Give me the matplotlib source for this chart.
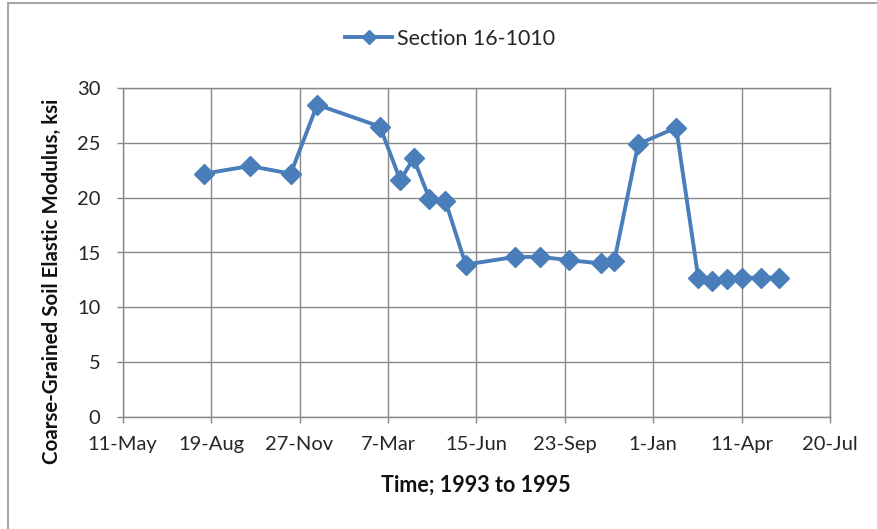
import matplotlib
matplotlib.use("Agg")
import matplotlib.pyplot as plt
from matplotlib.patches import Rectangle
import datetime as dt

plt.rcParams['font.family'] = ['Lato', 'DejaVu Sans']

series_name = "Section 16-1010"
dates = ["1993-08-11", "1993-10-02", "1993-11-17", "1993-12-17", "1994-02-26",
         "1994-03-21", "1994-04-05", "1994-04-23", "1994-05-11", "1994-06-03",
         "1994-07-29", "1994-08-26", "1994-09-28", "1994-11-03", "1994-11-18",
         "1994-12-15", "1995-01-27", "1995-02-21", "1995-03-09", "1995-03-26",
         "1995-04-12", "1995-05-03", "1995-05-23"]
values = [22.2, 22.9, 22.2, 28.5, 26.5,
          21.6, 23.6, 19.9, 19.7, 13.9,
          14.6, 14.6, 14.3, 14.0, 14.2,
          24.9, 26.4, 12.7, 12.4, 12.6,
          12.7, 12.7, 12.7]
tick_labels = ["11-May", "19-Aug", "27-Nov", "7-Mar", "15-Jun", "23-Sep",
               "1-Jan", "11-Apr", "20-Jul"]
x_start = "1993-05-11"
tick_step_days = 100
y_ticks = [0, 5, 10, 15, 20, 25, 30]

W, H = 877, 529
fig = plt.figure(figsize=(W / 100, H / 100), dpi=100)
left, right, top, bottom = 122.7, 830, 88.3, 416.7
ax = fig.add_axes([left / W, 1 - bottom / H, (right - left) / W, (bottom - top) / H])

x = [dt.datetime.strptime(d, "%Y-%m-%d") for d in dates]
start = dt.datetime.strptime(x_start, "%Y-%m-%d")
ticks = [start + dt.timedelta(days=tick_step_days * i) for i in range(len(tick_labels))]

color = "#4A7EBB"
ax.plot(x, values, color=color, lw=2.8, marker="D", markersize=10,
        markeredgecolor=color, markerfacecolor=color, label=series_name)

ax.set_xlim(ticks[0], ticks[-1])
ax.set_ylim(0, 30)
ax.set_xticks(ticks)
ax.set_xticklabels(tick_labels)
ax.set_yticks(y_ticks)

gc = "#888888"
ax.grid(True, color=gc, lw=1.0)
for s in ax.spines.values():
    s.set_color(gc)
    s.set_linewidth(1.0)
ax.tick_params(axis="both", colors=gc, length=4, width=1.0, labelsize=14.5,
               labelcolor="#262626")
ax.tick_params(axis="x", pad=10)
ax.tick_params(axis="y", pad=12)
ax.set_axisbelow(True)

fig.text(476 / W, 1 - 485 / H, "Time; 1993 to 1995", fontsize=15.5,
         fontweight="bold", color="#111111", ha="center", va="center")
fig.text(52 / W, 1 - 281 / H, "Coarse-Grained Soil Elastic Modulus, ksi",
         fontsize=14.8, fontweight="bold", color="#111111", ha="center",
         va="center", rotation=90)

leg = fig.legend(loc="center", bbox_to_anchor=(450 / W, 1 - 39 / H), frameon=False,
                 fontsize=15.5, handlelength=2.2, handletextpad=0.2,
                 markerscale=0.75, labelcolor="#262626")

fig.patches.append(Rectangle((7.5 / W, -0.1), 1.2, 1 - 3.5 / H + 0.1,
                             transform=fig.transFigure, fill=False,
                             edgecolor="#A6A6A6", lw=1.5))

fig.savefig("out.png", dpi=100)
